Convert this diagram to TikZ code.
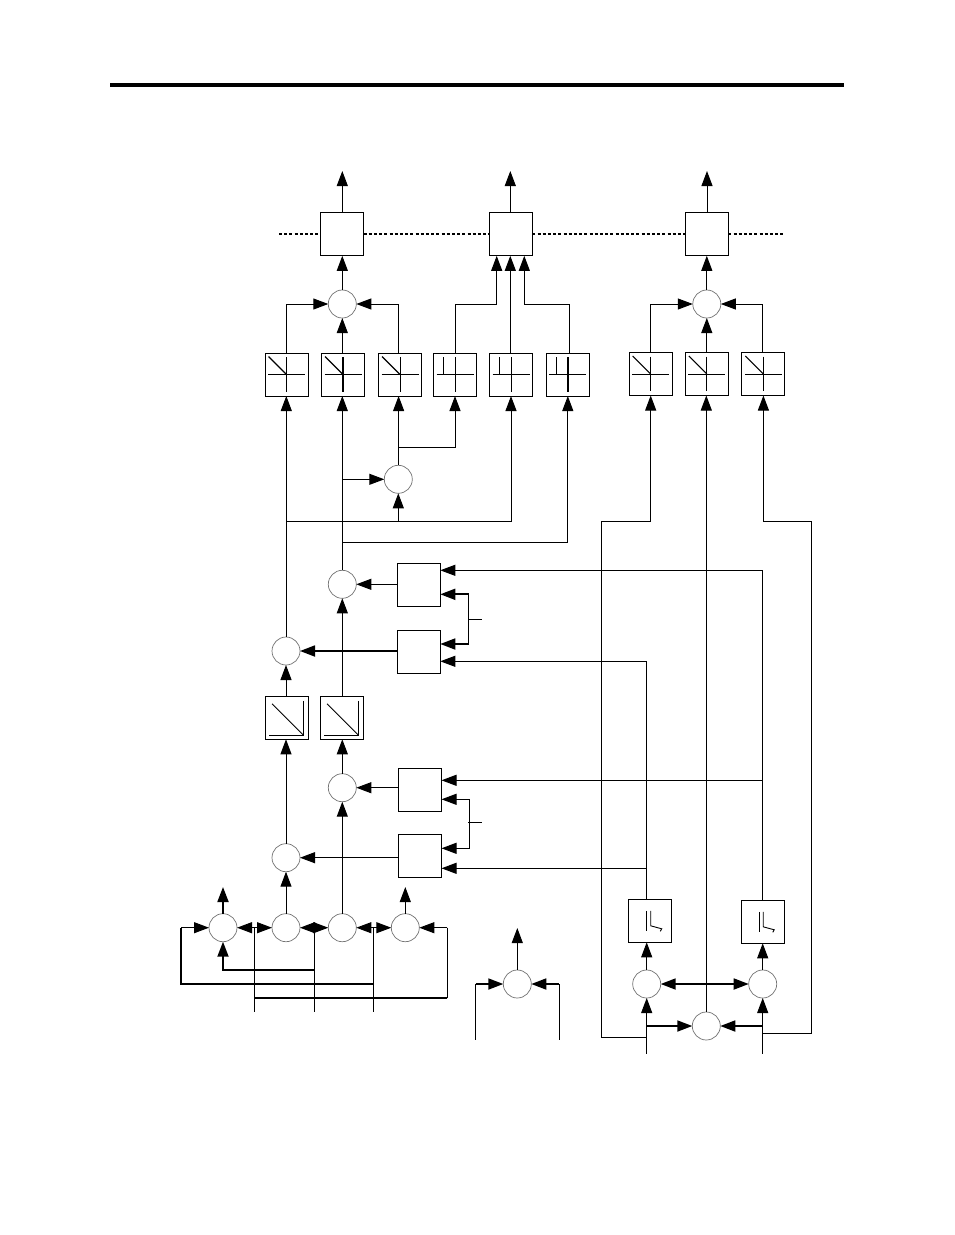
\documentclass[tikz,border=0pt]{standalone}
\usetikzlibrary{arrows.meta,calc}
\tikzset{
  wire/.style={line width=1pt,black},
  hvy/.style={line width=1.8pt,black},
  tip/.style={-{Triangle[length=15pt,width=11pt]}},
  arr/.style={wire,tip},
  harr/.style={hvy,tip},
  hdbl/.style={hvy,{Triangle[length=15pt,width=11pt]}-{Triangle[length=15pt,width=11pt]}},
  blk/.style={draw=black,line width=1pt,rectangle,minimum size=43pt,inner sep=0pt,outer sep=0pt,fill=white},
  sum/.style={draw=black!55,line width=0.7pt,circle,minimum size=28pt,inner sep=0pt,outer sep=0pt,fill=white},
  sym/.style={line width=0.9pt,black},
  dots/.style={line width=1.8pt,black,dash pattern=on 3pt off 2.2pt},
}
\newcommand{\diagsym}[2][sym]{\begin{scope}[shift={(#2.center)}]
  \draw[sym] (-18.5,0) -- (18.5,0);
  \draw[#1] (0,-17.5) -- (0,17);
  \draw[sym,line width=1.1pt] (-18,-18) -- (0,0);
\end{scope}}
\newcommand{\stepsym}[2][sym]{\begin{scope}[shift={(#2.center)}]
  \draw[sym] (-18.5,0) -- (18.5,0);
  \draw[#1] (0,-17.5) -- (0,17);
  \draw[sym] (-11.5,-17.5) -- (-11.5,0);
\end{scope}}
\newcommand{\satsym}[1]{\begin{scope}[shift={(#1.center)}]
  \draw[sym] (-14.8,-14) -- (16.5,17.2);
  \draw[sym] (16.5,-17) -- (16.5,17.2) -- (-17.8,17.2);
\end{scope}}
\newcommand{\kinksym}[1]{\begin{scope}[shift={(#1.center)}]
  \draw[sym] (-3.4,-10) -- (-3.4,10);
  \draw[sym] (0.4,-10) -- (0.4,5) -- (11.4,8) -- (10,10.5);
\end{scope}}
\begin{document}
\begin{tikzpicture}[x=1pt,y=-1pt]
\useasboundingbox (0,0) rectangle (954,1235);
% page rule
\coordinate (ruleL) at (110,85);
\coordinate (ruleR) at (844,85);
\draw[line width=4pt,black] (ruleL) -- (ruleR);

% free ends and junctions
\coordinate (dl) at (279,234);
\coordinate (dr) at (785,234);
\coordinate (o1) at (342.3,171);
\coordinate (o2) at (510.3,171);
\coordinate (o3) at (707,171);
\coordinate (f1) at (496.7,304);
\coordinate (f3) at (524.3,304);
\coordinate (jc) at (398.6,447.3);
\coordinate (jL) at (286.3,521.3);
\coordinate (jM) at (342.3,542);
\coordinate (a7) at (601.3,521.3);
\coordinate (a9) at (811.3,521.3);
\coordinate (fT) at (762.7,570.3);
\coordinate (ci) at (762.7,780.3);
\coordinate (bi) at (646.7,661.3);
\coordinate (di) at (646.7,868.3);
\coordinate (brA) at (468.7,594.3);
\coordinate (brB) at (468.7,644);
\coordinate (tkA) at (481.7,619.3);
\coordinate (brC) at (469.3,799.3);
\coordinate (brD) at (469.3,848.3);
\coordinate (tkB) at (482,822);
\coordinate (gj) at (646.7,1037.3);
\coordinate (hj) at (762.7,1033.3);
\coordinate (gin) at (646.7,1053.7);
\coordinate (hin) at (762.7,1053.7);
\coordinate (t1) at (254.3,927.7);
\coordinate (t2) at (314.3,927.7);
\coordinate (t3) at (373.3,927.7);
\coordinate (b1) at (254.3,1011.7);
\coordinate (b2) at (314.3,1011.7);
\coordinate (b3) at (373.3,1011.7);
\coordinate (lA) at (181,927.7);
\coordinate (lB) at (181,984);
\coordinate (rA) at (447.3,927.7);
\coordinate (rB) at (447.3,997.7);
\coordinate (uA) at (223,970);
\coordinate (q1) at (223,887);
\coordinate (q4) at (405.3,887);
\coordinate (ml) at (475.7,1039.7);
\coordinate (mr) at (559.3,1039.7);
\coordinate (mo) at (517.3,928);

% blocks
\node[blk] (M1) at (342,234.3) {};
\node[blk] (M2) at (510.8,234.3) {};
\node[blk] (M3) at (706.8,234.3) {};
\node[blk] (s1) at (286.5,374.5) {};
\node[blk] (s2) at (343,374.5) {};
\node[blk] (s3) at (400,374.5) {};
\node[blk] (s4) at (455,374.5) {};
\node[blk] (s5) at (511,374.5) {};
\node[blk] (s6) at (567.8,374.5) {};
\node[blk] (s7) at (650.7,374) {};
\node[blk] (s8) at (706.8,374) {};
\node[blk] (s9) at (763.4,374) {};
\node[blk] (A) at (418.8,584.8) {};
\node[blk] (B) at (418.8,651.8) {};
\node[blk] (C) at (420,789.8) {};
\node[blk] (D) at (420,855.8) {};
\node[blk] (T1) at (286.8,717.8) {};
\node[blk] (T2) at (341.8,717.8) {};
\node[blk] (E) at (650.3,920.8) {};
\node[blk] (F) at (762.8,921.8) {};

% summing circles
\node[sum] (S1) at (342.3,304) {};
\node[sum] (S2) at (706.8,304) {};
\node[sum] (c0) at (398.3,479.3) {};
\node[sum] (c4) at (342.3,584.3) {};
\node[sum] (c5) at (286,651) {};
\node[sum] (c6) at (342.3,787.7) {};
\node[sum] (c7) at (286,857.7) {};
\node[sum] (r1) at (223,927.7) {};
\node[sum] (r2) at (286,927.7) {};
\node[sum] (r3) at (342.3,927.7) {};
\node[sum] (r4) at (405.3,927.7) {};
\node[sum] (X) at (517.3,984) {};
\node[sum] (G) at (646.7,984) {};
\node[sum] (H) at (762.7,984) {};
\node[sum] (I) at (706.3,1026) {};

% block symbols
\diagsym{s1} \diagsym[hvy]{s2} \diagsym{s3}
\stepsym{s4} \stepsym{s5} \stepsym[hvy]{s6}
\diagsym{s7} \diagsym{s8} \diagsym{s9}
\satsym{T1} \satsym{T2}
\kinksym{E} \kinksym{F}

% bus
\draw[dots] (dl) -- (M1.west |- dl);
\draw[dots] (M1.east |- dl) -- (M2.west |- dl);
\draw[dots] (M2.east |- dl) -- (M3.west |- dl);
\draw[dots] (M3.east |- dl) -- (dr);

% top outputs
\draw[arr] (M1.north -| o1) -- (o1);
\draw[arr] (M2.north -| o2) -- (o2);
\draw[arr] (M3.north -| o3) -- (o3);

% into bus blocks
\draw[arr] (S1.north) -- (S1.north |- M1.south);
\draw[arr] (S2.north) -- (S2.north |- M3.south);
\draw[arr] (s4.north) |- (f1) -- (f1 |- M2.south);
\draw[arr] (o2 |- s5.north) -- (o2 |- M2.south);
\draw[arr] (s6.north) ++(1.5,0) |- (f3) -- (f3 |- M2.south);

% first group to S1
\draw[arr] (s1.north) |- (S1.west);
\draw[arr] (S1 |- s2.north) -- (S1.south);
\draw[arr] (jc |- s3.north) ++(-0.3,0) |- (S1.east);

% right group to S2
\draw[arr] (s7.north) |- (S2.west);
\draw[arr] (S2 |- s8.north) -- (S2.south);
\draw[arr] (s9.north) ++(-0.7,0) |- (S2.east);

% inputs of selector blocks
\draw[arr] (c5.north) ++(0.3,0) -- (jL |- s1.south);
\draw[arr] (c4.north) -- (c4.north |- s2.south);
\draw[arr] (c0.north) ++(0.3,0) -- (jc |- s3.south);
\draw[arr] (jc) -| (s4.south);
\draw[arr] (jL) -| (s5.south);
\draw[arr] (jM) -| (s6.south);
\draw[arr] (c0 |- jL) -- (c0.south);
\draw[arr] (c4 |- c0) -- (c0.west);
\draw[arr] (gj) -| (a7) -| (s7.south);
\draw[arr] (I.north) -- (I.north |- s8.south);
\draw[arr] (hj) -| (a9) -| (s9.south);

% upper multiplier pair
\draw[arr] (A.west |- c4) -- (c4.east);
\draw[harr] (B.west |- c5) -- (c5.east);
\draw[arr] (c5 |- T1.north) -- (c5.south);
\draw[arr] (c4 |- T2.north) -- (c4.south);
\draw[arr] (fT) -- (A.east |- fT);
\draw[arr] (bi) -- (B.east |- bi);
\draw[wire] (brA) -- (brB);
\draw[harr] (brA) -- (A.east |- brA);
\draw[harr] (brB) -- (B.east |- brB);
\draw[wire] (brA |- tkA) -- (tkA);

% lower multiplier pair
\draw[arr] (c7.north) -- (c7 |- T1.south);
\draw[arr] (c6.north) -- (c6 |- T2.south);
\draw[arr] (C.west |- c6) -- (c6.east);
\draw[arr] (D.west |- c7) -- (c7.east);
\draw[arr] (ci) -- (C.east |- ci);
\draw[arr] (di) -- (D.east |- di);
\draw[arr] (brC) -- (C.east |- brC);
\draw[arr] (brC) -- (brD) -- (D.east |- brD);
\draw[wire] (brC |- tkB) ++(-1.3,0) -- (tkB);
\draw[wire] (F.north) -- (F.north |- fT);
\draw[wire] (G |- E.north) -- (bi);

% bottom row
\draw[arr] (r2.north) -- (r2 |- c7.south);
\draw[arr] (r3.north) -- (r3 |- c6.south);
\draw[harr] (r1.north) -- (q1);
\draw[arr] (r4.north) -- (q4);
\draw[wire] (b1) -- (t1);
\draw[wire] (b2) -- (t2);
\draw[wire] (b3) -- (t3);
\draw[arr] (t1) -- (r1.east);
\draw[arr] (t1) -- (r2.west);
\draw[arr] (t2) -- (r2.east);
\draw[arr] (t2) -- (r3.west);
\draw[arr] (t3) -- (r3.east);
\draw[arr] (t3) -- (r4.west);
\draw[arr] (lA) -- (r1.west);
\draw[hvy] (t3 |- lB) -- (lB) -- (lA);
\draw[harr] (t2 |- uA) -- (uA) -- (r1.south);
\draw[arr] (rA) -- (r4.east);
\draw[wire] (rA) -- (rB);
\draw[hvy] (rB) -- (b1 |- rB);

% lone summing circle
\draw[arr] (X.north) -- (mo);
\draw[wire] (ml) -- (ml |- X);
\draw[wire] (mr) -- (mr |- X);
\draw[harr] (ml |- X) -- (X.west);
\draw[harr] (mr |- X) -- (X.east);

% right input network
\draw[arr] (G.north) -- (G |- E.south);
\draw[arr] (H.north) -- (H |- F.south);
\draw[hdbl] (G.east) -- (H.west);
\draw[arr] (gin) -- (G.south);
\draw[arr] (hin) -- (H.south);
\draw[harr] (G |- I) -- (I.west);
\draw[harr] (H |- I) -- (I.east);
\end{tikzpicture}
\end{document}
